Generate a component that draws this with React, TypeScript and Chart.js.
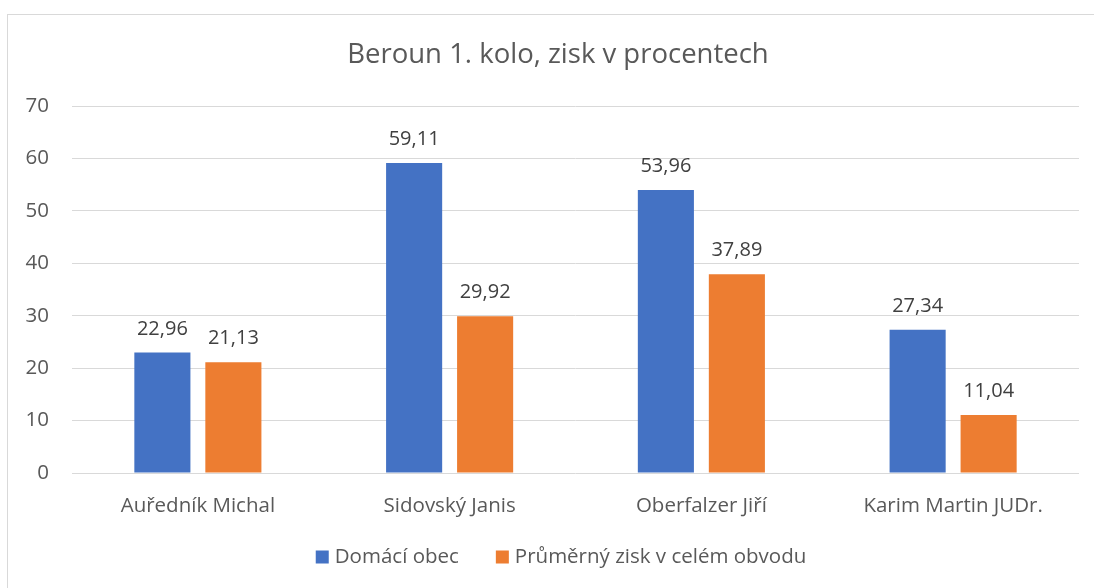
import React, { useEffect, useRef } from "react";
import { Chart, registerables } from "chart.js";

Chart.register(...registerables);

const TITLE = "Beroun 1. kolo, zisk v procentech";
const categories = ["Auředník Michal", "Sidovský Janis", "Oberfalzer Jiří", "Karim Martin JUDr."];
const seriesNames = ["Domácí obec", "Průměrný zisk v celém obvodu"];
const domaciObec = [22.96, 59.11, 53.96, 27.34];
const prumernyZisk = [21.13, 29.92, 37.89, 11.04];
const colors = ["#4472C4", "#ED7D31"];
const yMin = 0;
const yMax = 70;
const yStep = 10;

const FONT = "'Open Sans', 'Noto Sans', sans-serif";

const titlePlugin = {
  id: "centeredTitle",
  afterDraw(chart: any) {
    const ctx = chart.ctx;
    ctx.save();
    ctx.font = `27.5px ${FONT}`;
    ctx.fillStyle = "#595959";
    ctx.textAlign = "center";
    ctx.textBaseline = "middle";
    ctx.fillText(TITLE, chart.width / 2, 40);
    ctx.restore();
  },
};

const dataLabels = {
  id: "dataLabels",
  afterDatasetsDraw(chart: any) {
    const ctx = chart.ctx;
    ctx.save();
    ctx.font = `20px ${FONT}`;
    ctx.fillStyle = "#404040";
    ctx.textAlign = "center";
    ctx.textBaseline = "alphabetic";
    chart.data.datasets.forEach((ds: any, i: number) => {
      const meta = chart.getDatasetMeta(i);
      meta.data.forEach((el: any, j: number) => {
        const v = ds.data[j];
        const txt = v.toFixed(2).replace(".", ",");
        ctx.fillText(txt, el.x, el.y - 18);
      });
    });
    ctx.restore();
  },
};

const customLegend = {
  id: "customLegend",
  afterDraw(chart: any) {
    const ctx = chart.ctx;
    ctx.save();
    ctx.font = `20.5px ${FONT}`;
    const box = 13;
    const gap = 6;
    const spacing = 37;
    const items = chart.data.datasets.map((ds: any) => ({
      label: ds.label,
      color: ds.backgroundColor,
      w: box + gap + ctx.measureText(ds.label).width,
    }));
    const total = items.reduce((s: number, it: any) => s + it.w, 0) + spacing * (items.length - 1);
    let x = chart.width / 2 + 3 - total / 2;
    const y = 542;
    ctx.textBaseline = "middle";
    ctx.textAlign = "left";
    items.forEach((it: any) => {
      ctx.fillStyle = it.color;
      ctx.fillRect(x, y - box / 2, box, box);
      ctx.fillStyle = "#595959";
      ctx.fillText(it.label, x + box + gap, y);
      x += it.w + spacing;
    });
    ctx.restore();
  },
};

export default function App() {
  const ref = useRef<HTMLCanvasElement>(null);
  useEffect(() => {
    if (!ref.current) return;
    const chart = new Chart(ref.current, {
      type: "bar",
      data: {
        labels: categories,
        datasets: [
          { label: seriesNames[0], data: domaciObec, backgroundColor: colors[0], barPercentage: 0.79, categoryPercentage: 0.564 },
          { label: seriesNames[1], data: prumernyZisk, backgroundColor: colors[1], barPercentage: 0.79, categoryPercentage: 0.564 },
        ],
      },
      options: {
        animation: false,
        responsive: false,
        maintainAspectRatio: false,
        devicePixelRatio: 1,
        layout: { padding: { left: 0, right: 29, top: 91, bottom: 0 } },
        plugins: {
          legend: { display: false },
          tooltip: { enabled: false },
          title: { display: false },
        },
        scales: {
          x: {
            grid: { display: false },
            border: { display: false },
            ticks: { color: "#595959", font: { family: FONT, size: 20.5 }, padding: 13, maxRotation: 0 },
            afterFit(scale: any) {
              scale.height = 142;
            },
          },
          y: {
            min: yMin,
            max: yMax,
            grid: { color: "#d9d9d9", lineWidth: 1, drawTicks: false },
            border: { display: false },
            ticks: { stepSize: yStep, color: "#595959", font: { family: FONT, size: 20.5 }, padding: 23 },
            afterFit(scale: any) {
              scale.width = 64;
            },
          },
        },
      },
      plugins: [dataLabels, customLegend, titlePlugin],
    });
    return () => chart.destroy();
  }, []);

  return (
    <div style={{ position: "fixed", left: 0, top: 0, width: 1094, height: 588, overflow: "hidden", background: "#fff" }}>
      <div
        style={{
          position: "absolute",
          left: 7,
          top: 14,
          width: 1100,
          height: 600,
          border: "1px solid #d9d9d9",
          background: "#fff",
        }}
      >
        <canvas ref={ref} width={1100} height={600} style={{ display: "block", width: 1100, height: 600 }} />
      </div>
    </div>
  );
}
